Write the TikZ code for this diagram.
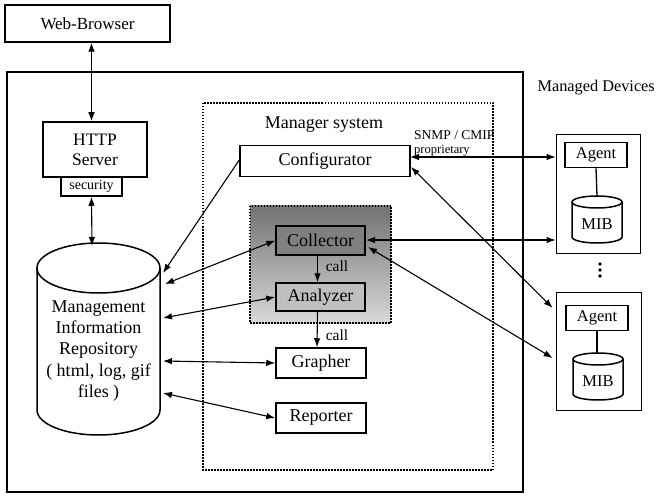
\documentclass[tikz,border=0pt]{standalone}
\usepackage{fontspec}
\setmainfont{Liberation Serif}
\usetikzlibrary{arrows.meta,calc}
\begin{document}
\begin{tikzpicture}[x=1pt,y=-1pt,
  box/.style={draw,line width=1.5pt,inner sep=0pt,align=center,font=\fontsize{18}{20}\selectfont,fill=white},
  devbox/.style={draw,line width=0.7pt},
  agentbox/.style={draw,line width=1.5pt,inner sep=0pt,fill=white,font=\fontsize{16.5}{19}\selectfont,minimum width=62pt,minimum height=25pt},
  conn/.style={line width=1.1pt,{Latex[length=9pt,width=6.5pt]}-{Latex[length=9pt,width=6.5pt]}},
  oneway/.style={line width=1.1pt,-{Latex[length=9pt,width=6.5pt]}},
  dotbox/.style={line width=2pt,dash pattern=on 1.5pt off 1.5pt},
  lbl/.style={inner sep=0pt,font=\fontsize{18}{20}\selectfont},
  smalllbl/.style={inner sep=0pt,font=\fontsize{13.5}{15}\selectfont},
  cyl/.style={line width=1.5pt}
]
\useasboundingbox (0,0) rectangle (656,497);

% outer box
\draw[line width=1.7pt] (7,72) rectangle (523,492);
% manager system dotted box
\draw[dotbox] (203,103) rectangle (493,470);
\node[lbl] (mgrlbl) at (324,125) {Manager system};
% shaded region
\shade[top color=black!55,bottom color=black!15] (250,206) rectangle (391,323);
\draw[dotbox,line width=1.6pt] (250,206) rectangle (391,323);

% Web browser
\node[box,minimum width=165pt,minimum height=37pt,font=\fontsize{17}{19}\selectfont] (web) at (87.5,23.5) {Web-Browser};
% HTTP server
\node[box,minimum width=104pt,minimum height=55pt,font=\fontsize{17.5}{20}\selectfont] (http) at (95,149.5) {HTTP\\Server};
\node[box,minimum width=61pt,minimum height=19pt,font=\fontsize{14}{15}\selectfont] (sec) at (91.5,186.5) {security};

% Repository cylinder
\draw[cyl,fill=white] (37,268) -- (37,410) arc[start angle=180,end angle=360,x radius=61.5pt,y radius=25pt] -- (160,268);
\draw[cyl] (98.5,268) ellipse[x radius=61.5pt,y radius=25pt];
\node[lbl,align=center,font=\fontsize{18}{21.3}\selectfont] (repo) at (98.5,351) {Management\\Information\\Repository\\( html, log, gif\\files )};
\coordinate (rtop) at (92,246);
\coordinate (r1) at (163,273);
\coordinate (r2) at (165,284);
\coordinate (r3) at (163,318);
\coordinate (r4) at (163,361);
\coordinate (r5) at (163,393);

% Manager components
\node[box,minimum width=170pt,minimum height=31pt] (conf) at (325,161) {Configurator};
\node[box,minimum width=89pt,minimum height=29pt,fill=black!50] (coll) at (320.5,240.5) {Collector};
\node[box,minimum width=89pt,minimum height=28pt,fill=black!25] (anal) at (320.5,297) {Analyzer};
\node[box,minimum width=90pt,minimum height=30pt] (graph) at (321,363) {Grapher};
\node[box,minimum width=90pt,minimum height=30pt] (rep) at (321,418) {Reporter};

% Managed devices
\node[lbl,font=\fontsize{16.3}{19}\selectfont,anchor=east] (mdlbl) at (655,88) {Managed Devices};
\node[devbox,minimum width=84pt,minimum height=119pt,inner sep=0pt] (dev1) at (598,193.5) {};
\node[devbox,minimum width=85pt,minimum height=118pt,inner sep=0pt] (dev2) at (598.5,351) {};
\node[agentbox] (ag1) at (596,155) {Agent};
\node[agentbox] (ag2) at (597,318) {Agent};
% MIB 1
\draw[cyl,fill=white] (572,202) -- (572,237) arc[start angle=180,end angle=360,x radius=25pt,y radius=6pt] -- (622,202);
\draw[cyl] (597,202) ellipse[x radius=25pt,y radius=6pt];
\node[lbl,font=\fontsize{16.5}{19}\selectfont] (mib1) at (597,224) {MIB};
% MIB 2
\draw[cyl,fill=white] (573,359) -- (573,394) arc[start angle=180,end angle=360,x radius=25pt,y radius=6pt] -- (623,359);
\draw[cyl] (598,359) ellipse[x radius=25pt,y radius=6pt];
\node[lbl,font=\fontsize{16.5}{19}\selectfont] (mib2) at (598,381) {MIB};
\coordinate (mib1top) at (597,196);
\coordinate (mib2top) at (597,353);
\draw[line width=1.3pt] (ag1.south) -- (mib1top);
\draw[line width=1.3pt] (ag2.south) -- (mib2top);
% dots
\foreach \yy in {264,270,276} \fill (600,\yy) circle[radius=1.8pt];

% connectors
\draw[conn] (web.south -| sec) -- (http.north -| sec);
\draw[conn] (sec.south) -- (rtop);
\draw[oneway] ($(conf.west)+(0,-1)$) -- (r1);
\draw[conn] (coll.west) -- (r2);
\draw[conn] (anal.west) -- (r3);
\draw[conn] (graph.west) -- (r4);
\draw[conn] (rep.west) -- (r5);
\draw[oneway] ($(coll.south)+(-3,0)$) -- ($(anal.north)+(-3,0)$);
\node[smalllbl,font=\fontsize{15.5}{17}\selectfont] (call1) at (337,266) {call};
\draw[oneway] ($(anal.south)+(-3,0)$) -- ($(graph.north)+(-4,0)$);
\node[smalllbl,font=\fontsize{15.5}{17}\selectfont] (call2) at (337,335) {call};

\coordinate (c1) at (410,157);
\coordinate (c2) at (411,167);
\coordinate (k1) at (366,240);
\coordinate (k2) at (368,247);
\draw[conn] (c1) -- (c1 -| dev1.west);
\node[smalllbl,font=\fontsize{13.5}{15}\selectfont,anchor=west] (snmp) at (414,135) {SNMP / CMIP};
\node[smalllbl,font=\fontsize{12.5}{14}\selectfont,anchor=west] (prop) at (414,150.5) {proprietary};
\draw[conn] (c2) -- ($(dev2.west)+(-3,-43)$);
\draw[conn] (k1) -- (k1 -| dev1.west);
\draw[conn] (k2) -- ($(dev2.west)+(-3,7)$);
\end{tikzpicture}
\end{document}
